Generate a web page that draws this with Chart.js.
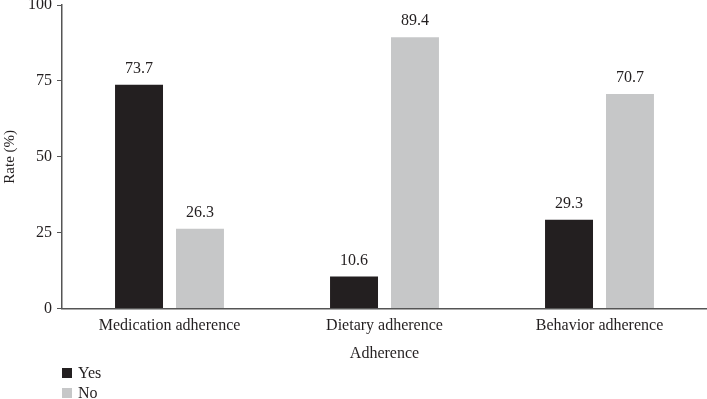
<!DOCTYPE html>
<html>
<head>
<meta charset="utf-8">
<script src="https://cdn.jsdelivr.net/npm/chart.js@4"></script>
<style>
  html, body { margin: 0; padding: 0; background: #fff; }
  #wrap { width: 707px; height: 399px; position: relative; }
</style>
</head>
<body>
<div id="wrap"><canvas id="adherenceChart"></canvas></div>
<script>
const categories = ["Medication adherence", "Dietary adherence", "Behavior adherence"];
const yesRates = [73.7, 10.6, 29.3];
const noRates = [26.3, 89.4, 70.7];
const yTicks = [0, 25, 50, 75, 100];

const serif = "'Liberation Serif', 'DejaVu Serif', serif";
const inkColor = "#231f20";

// value labels above each bar
const valueLabels = {
  id: "valueLabels",
  afterDatasetsDraw(chart) {
    const ctx = chart.ctx;
    ctx.save();
    ctx.font = "16px " + serif;
    ctx.fillStyle = inkColor;
    ctx.textAlign = "center";
    ctx.textBaseline = "bottom";
    chart.data.datasets.forEach((ds, i) => {
      chart.getDatasetMeta(i).data.forEach((bar, j) => {
        ctx.fillText(ds.data[j].toFixed(1), bar.x, bar.y - 8);
      });
    });
    ctx.restore();
  },
};

// stacked legend in the bottom-left corner
const stackedLegend = {
  id: "stackedLegend",
  afterDraw(chart) {
    const ctx = chart.ctx;
    ctx.save();
    ctx.font = "16px " + serif;
    ctx.textBaseline = "middle";
    chart.data.datasets.forEach((ds, i) => {
      const y = 373 + i * 20;
      ctx.fillStyle = ds.backgroundColor;
      ctx.fillRect(62, y - 5, 10, 10);
      ctx.fillStyle = inkColor;
      ctx.fillText(ds.label, 78, y + 1);
    });
    ctx.restore();
  },
};

new Chart(document.getElementById("adherenceChart").getContext("2d"), {
  type: "bar",
  data: {
    labels: categories,
    datasets: [
      { label: "Yes", data: yesRates, backgroundColor: "#231f20" },
      { label: "No", data: noRates, backgroundColor: "#c6c7c8" },
    ],
  },
  options: {
    responsive: true,
    maintainAspectRatio: false,
    animation: false,
    categoryPercentage: 0.567,
    barPercentage: 0.787,
    layout: { padding: { top: 5, right: 0, bottom: 36, left: 1 } },
    scales: {
      x: {
        grid: { display: false, drawTicks: false },
        border: { display: true, color: "#555", width: 1.5 },
        ticks: { color: inkColor, font: { family: serif, size: 16 }, padding: 8 },
        title: {
          display: true,
          text: "Adherence",
          color: inkColor,
          font: { family: serif, size: 16 },
          padding: { top: 0, bottom: 0 },
        },
      },
      y: {
        min: 0,
        max: 100,
        afterBuildTicks(axis) {
          axis.ticks = yTicks.map((v) => ({ value: v }));
        },
        afterFit(axis) {
          axis.paddingTop = 0;
        },
        grid: { drawOnChartArea: false, drawTicks: true, tickLength: 5, color: "#555" },
        border: { display: true, color: "#555", width: 1.5 },
        ticks: { color: inkColor, font: { family: serif, size: 16 }, padding: 5 },
        title: {
          display: true,
          text: "Rate (%)",
          color: inkColor,
          font: { family: serif, size: 15 },
          padding: { top: 0, bottom: 4 },
        },
      },
    },
    plugins: {
      legend: { display: false },
      tooltip: { enabled: false },
    },
  },
  plugins: [valueLabels, stackedLegend],
});
</script>
</body>
</html>
